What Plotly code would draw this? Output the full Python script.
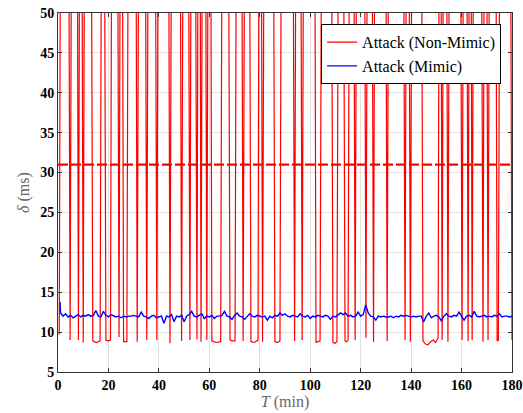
import plotly.graph_objects as go

# ---------------- data ----------------
# Attack (Non-Mimic): time (min) and delay (ms); peaks go far above the axis range
red_t = [0.5, 1.5,
         3.8, 4.8, 5.8,
         7.1, 8.1, 9.0,
         9.1, 10.0, 11.0,
         12.8, 13.8, 15.2, 16.7, 17.7,
         18.0, 19.0, 19.9, 20.8, 21.8,
         23.2, 24.2, 25.1,
         25.2, 26.0, 27.3, 28.3,
         30.4, 31.4, 32.4,
         34.2, 35.2, 36.2,
         38.2, 39.2, 40.2,
         43.4, 44.4, 45.4,
         48.0, 49.0, 50.0,
         51.3, 52.3, 53.3,
         54.1, 55.1, 55.9,
         56.0, 56.7, 57.6,
         58.1, 59.0, 59.9,
         60.1, 61.0, 62.8, 64.5, 65.5,
         67.2, 68.2, 69.2, 70.2, 71.2,
         72.4, 73.4, 74.4,
         75.5, 76.5, 77.9, 79.3, 80.1,
         80.2, 81.1, 82.1,
         85.0, 86.0, 87.0, 88.0, 89.0,
         92.8, 93.8, 94.8,
         95.8, 96.8, 97.8,
         101.3, 102.3, 103.1, 103.9, 104.9,
         108.0, 109.0, 109.8, 110.6, 111.6,
         112.8, 113.8, 114.4, 115.0, 116.0,
         116.8, 117.8, 118.8,
         121.1, 122.1, 123.1,
         124.1, 125.1, 126.1,
         129.5, 130.5, 131.5,
         136.6, 137.6, 138.6,
         138.7, 139.7, 140.7,
         143.7, 144.7, 145.7, 146.7, 147.7, 148.7, 149.7, 150.7, 151.5,
         151.5, 152.3, 153.3,
         153.6, 154.6, 155.6,
         159.2, 160.2, 161.2,
         161.6, 162.6, 163.4,
         163.4, 164.2, 165.2,
         167.5, 168.5, 169.5,
         169.5, 170.5, 171.5,
         173.1, 174.1, 174.6, 175.6,
         179.0, 180.0]
red_v = [9.7, 120,
         110, 9.0, 105,
         130, 9.0, 110,
         100, 8.7, 115,
         100, 8.9, 8.7, 8.9, 110,
         100, 9.0, 8.9, 9.0, 120,
         105, 9.4, 110,
         100, 8.8, 8.8, 110,
         120, 8.8, 100,
         105, 9.0, 110,
         100, 9.0, 115,
         110, 8.6, 100,
         110, 8.9, 100,
         105, 9.0, 120,
         100, 9.1, 110,
         115, 8.8, 100,
         110, 9.0, 105,
         120, 8.9, 8.7, 8.8, 110,
         100, 9.0, 8.9, 8.9, 115,
         110, 8.9, 100,
         105, 8.8, 8.7, 9.0, 120,
         110, 8.8, 100,
         105, 8.8, 8.7, 8.9, 110,
         100, 8.9, 115,
         110, 9.0, 105,
         120, 8.7, 8.8, 8.9, 100,
         110, 8.7, 8.6, 8.8, 105,
         100, 8.9, 8.8, 9.0, 110,
         115, 9.0, 100,
         105, 9.3, 110,
         100, 8.8, 120,
         110, 8.9, 105,
         100, 9.0, 115,
         110, 8.8, 100,
         105, 8.9, 8.5, 8.4, 8.8, 9.0, 8.7, 9.3, 110,
         100, 9.0, 120,
         110, 8.8, 105,
         100, 9.0, 110,
         115, 8.9, 100,
         105, 9.0, 110,
         100, 8.8, 115,
         110, 9.0, 105,
         120, 8.9, 9.0, 110,
         105, 9.0]

# Attack (Mimic)
blue_t = [0.8] + list(range(1, 181))
blue_v = [13.8,
          12.4, 12.0, 12.3, 11.9, 12.1, 11.8, 12.0, 12.2, 11.9, 12.1,
          12.0, 12.2, 12.0, 12.1, 12.7, 12.0, 11.9, 12.6, 12.1, 11.9,
          12.2, 12.0, 11.9, 12.0, 11.8, 12.0, 11.9, 12.0, 12.0, 12.1,
          12.0, 11.9, 12.5, 12.0, 11.9, 11.7, 12.0, 12.1, 11.8, 11.9,
          12.0, 11.1, 12.0, 11.9, 12.2, 11.3, 12.0, 11.9, 12.1, 11.3,
          12.0, 12.2, 12.6, 12.0, 11.9, 12.1, 12.3, 11.7, 12.0, 11.9,
          12.1, 11.7, 12.0, 12.0, 12.1, 12.6, 12.0, 11.9, 11.6, 12.1,
          12.4, 12.0, 11.9, 11.6, 12.0, 12.3, 12.0, 11.9, 12.1, 12.0,
          11.9, 12.0, 11.5, 12.0, 11.8, 12.1, 12.0, 12.4, 12.1, 12.3,
          12.0, 11.9, 12.1, 12.0, 11.9, 12.3, 12.0, 11.9, 12.1, 11.7,
          12.0, 11.9, 12.1, 12.0, 11.9, 12.1, 12.0, 11.6, 12.0, 11.9,
          12.1, 12.4, 12.2, 12.4, 12.0, 12.1, 11.9, 12.0, 12.5, 12.0,
          12.2, 13.4, 12.4, 12.0, 11.9, 11.5, 12.0, 11.9, 12.0, 11.9,
          11.9, 12.0, 11.8, 12.0, 11.9, 12.1, 12.0, 12.1, 12.0, 11.9,
          12.0, 11.9, 12.0, 12.0, 11.3, 12.0, 12.4, 11.8, 12.0, 12.1,
          11.9, 11.4, 12.0, 12.3, 12.0, 11.9, 12.1, 12.0, 12.5, 12.0,
          11.5, 12.0, 12.1, 11.9, 12.6, 12.0, 11.9, 12.0, 12.1, 11.9,
          12.0, 11.9, 12.1, 12.0, 12.3, 11.9, 12.0, 12.0, 11.9, 12.0]

# threshold (dashed)
thr_t = [0, 180]
thr_v = [31, 31]

x_ticks = [0, 20, 40, 60, 80, 100, 120, 140, 160, 180]
y_ticks = [5, 10, 15, 20, 25, 30, 35, 40, 45, 50]

# ---------------- figure ----------------
SERIF = "Liberation Serif, Times New Roman, DejaVu Serif, serif"

fig = go.Figure()
fig.add_trace(go.Scatter(x=red_t, y=red_v, mode="lines", name="Attack (Non-Mimic)",
                         line=dict(color="rgb(255,0,0)", width=1.2)))
fig.add_trace(go.Scatter(x=blue_t, y=blue_v, mode="lines", name="Attack (Mimic)",
                         line=dict(color="rgb(0,0,255)", width=1.4)))
fig.add_trace(go.Scatter(x=thr_t, y=thr_v, mode="lines", showlegend=False,
                         line=dict(color="rgb(255,0,0)", width=2.2, dash="10px,3px")))

tickfont = dict(family=SERIF, size=14, color="black", weight="bold")
titlefont = dict(family=SERIF, size=16, color="#666666")

fig.update_layout(
    width=523, height=413,
    margin=dict(l=58, r=11, t=13, b=41, autoexpand=False),
    paper_bgcolor="white", plot_bgcolor="white",
    font=dict(family=SERIF),
    showlegend=True,
    legend=dict(x=0.976, y=0.969, xanchor="right", yanchor="top",
                bgcolor="white", bordercolor="black", borderwidth=1,
                font=dict(family=SERIF, size=16, color="black"),
                tracegroupgap=0),
)
fig.update_xaxes(range=[0, 180], tickvals=x_ticks, ticktext=[str(v) for v in x_ticks],
                 showgrid=True, gridcolor="#e3e3e3", gridwidth=1,
                 showline=True, linecolor="#333333", linewidth=1, mirror="ticks",
                 ticks="inside", ticklen=4, tickcolor="#333333",
                 tickfont=tickfont, zeroline=False, automargin=False,
                 title=dict(text="<i>T</i> (min)", font=titlefont, standoff=4))
fig.update_yaxes(range=[5, 50], tickvals=y_ticks, ticktext=[str(v) for v in y_ticks],
                 showgrid=True, gridcolor="#e3e3e3", gridwidth=1,
                 showline=True, linecolor="#333333", linewidth=1, mirror="ticks",
                 ticks="inside", ticklen=4, tickcolor="#333333",
                 tickfont=tickfont, zeroline=False, automargin=False,
                 title=dict(text="<i>δ</i> (ms)", font=titlefont, standoff=6))

fig.write_html("out.html", config={"displayModeBar": False},
               post_script="document.body.style.margin='0';document.body.style.overflow='hidden';")
